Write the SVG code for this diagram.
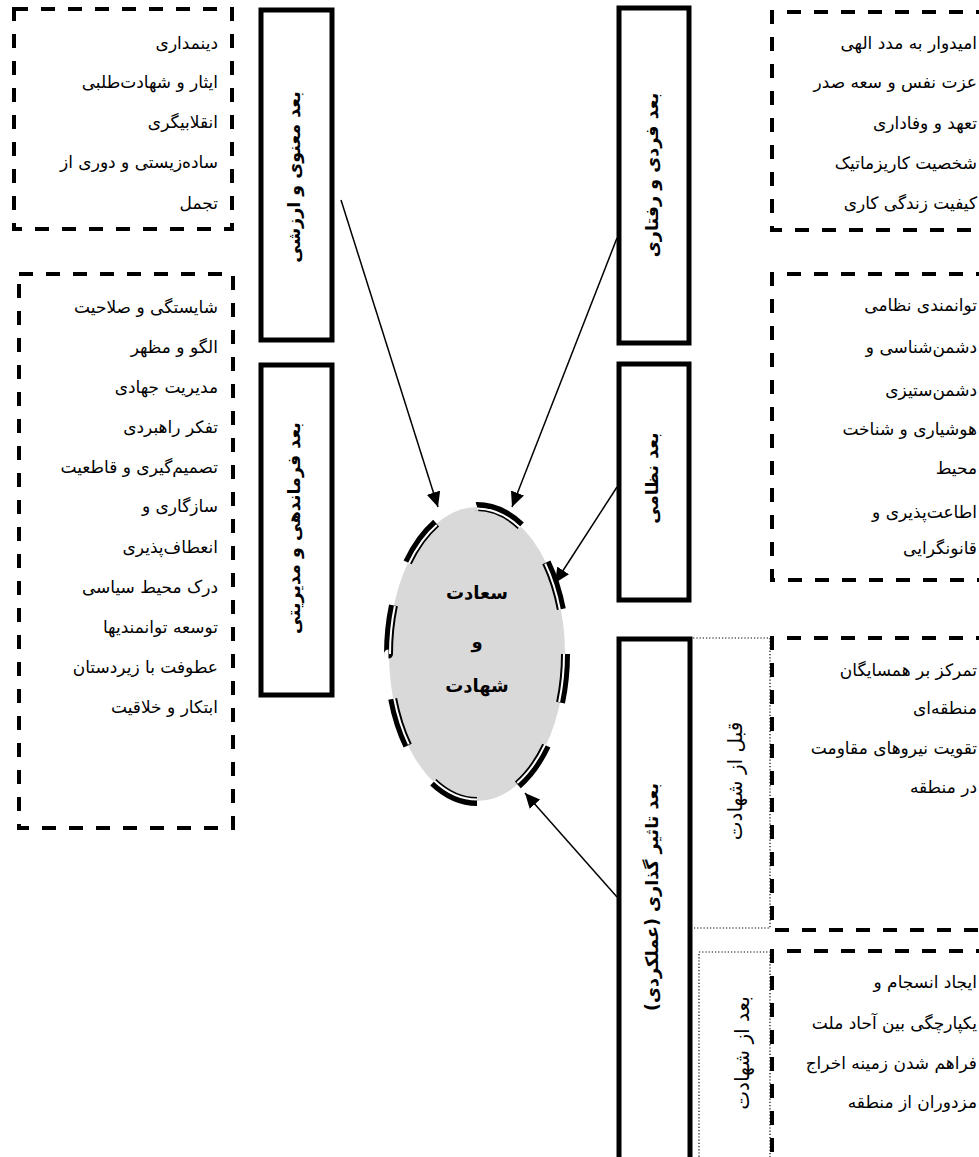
<svg xmlns="http://www.w3.org/2000/svg" width="979" height="1157" viewBox="0 0 979 1157">
<style>
.dash{fill:none;stroke:#000;stroke-width:4;stroke-dasharray:14 13}
.dot{fill:none;stroke:#000;stroke-width:1.2;stroke-dasharray:1.2 2}
.vbox{fill:none;stroke:#000;stroke-width:5}
.item{font-family:"DejaVu Sans",sans-serif;font-size:17px;fill:#000;text-anchor:end}
.vlab{font-family:"DejaVu Sans",sans-serif;font-size:17.5px;font-weight:bold;fill:#000;text-anchor:middle;dominant-baseline:central}
.vsub{font-family:"DejaVu Sans",sans-serif;font-size:20px;fill:#000;text-anchor:middle;dominant-baseline:central}
.ctext{font-family:"DejaVu Sans",sans-serif;font-size:18px;font-weight:bold;fill:#000;text-anchor:middle;dominant-baseline:central}
.conn{stroke:#000;stroke-width:1.5;fill:none}
</style>
<defs>
<marker id="arr" markerUnits="userSpaceOnUse" markerWidth="16" markerHeight="14" refX="15" refY="7" orient="auto">
<path d="M0,0 L15,7 L0,14 z" fill="#000"/>
</marker>
</defs>

<g id="box-spiritual-list">
<rect class="dash" x="14" y="9" width="218" height="220"/>
<text class="item" x="218" y="49">دینمداری</text>
<text class="item" x="218" y="88">ایثار و شهادت‌طلبی</text>
<text class="item" x="218" y="128">انقلابیگری</text>
<text class="item" x="218" y="168">ساده‌زیستی و دوری از</text>
<text class="item" x="218" y="209">تجمل</text>
</g>

<g id="box-command-list">
<rect class="dash" x="19" y="274" width="214" height="554"/>
<text class="item" x="218" y="313">شایستگی و صلاحیت</text>
<text class="item" x="218" y="353">الگو و مظهر</text>
<text class="item" x="218" y="393">مدیریت جهادی</text>
<text class="item" x="218" y="433">تفکر راهبردی</text>
<text class="item" x="218" y="473">تصمیم‌گیری و قاطعیت</text>
<text class="item" x="218" y="512">سازگاری و</text>
<text class="item" x="218" y="553">انعطاف‌پذیری</text>
<text class="item" x="218" y="593">درک محیط سیاسی</text>
<text class="item" x="218" y="633">توسعه توانمندیها</text>
<text class="item" x="218" y="673">عطوفت با زیردستان</text>
<text class="item" x="218" y="713">ابتکار و خلاقیت</text>
</g>

<g id="node-spiritual">
<rect class="vbox" x="261" y="10" width="71" height="330"/>
<text class="vlab" transform="translate(294,177) rotate(-90)">بعد معنوی و ارزشی</text>
</g>

<g id="node-command">
<rect class="vbox" x="261" y="365" width="71" height="330"/>
<text class="vlab" transform="translate(294,528) rotate(-90)">بعد فرماندهی و مدیریتی</text>
</g>

<g id="node-individual">
<rect class="vbox" x="619" y="8" width="70" height="335"/>
<text class="vlab" transform="translate(652,175) rotate(-90)">بعد فردی و رفتاری</text>
</g>

<g id="node-military">
<rect class="vbox" x="619" y="364" width="70" height="236"/>
<text class="vlab" transform="translate(652,478) rotate(-90)">بعد نظامی</text>
</g>

<g id="node-impact">
<rect class="vbox" x="619" y="639" width="71" height="560"/>
<text class="vlab" direction="rtl" transform="translate(652,897) rotate(-90)">بعد  تاثیر گذاری (عملکردی)</text>
</g>

<g id="node-before">
<path class="dot" d="M690,638 H770 V928 H690"/>
<text class="vsub" transform="translate(735,781) rotate(-90)">قبل از شهادت</text>
</g>

<g id="node-after">
<path class="dot" d="M699,1160 V952 H770 V1160"/>
<text class="vsub" transform="translate(742,1053) rotate(-90)">بعد از شهادت</text>
</g>

<g id="box-individual-list">
<path class="dash" d="M990,12 H772 V230 H990"/>
<text class="item" x="977" y="49">امیدوار به مدد الهی</text>
<text class="item" x="977" y="88">عزت نفس و سعه صدر</text>
<text class="item" x="977" y="129">تعهد و وفاداری</text>
<text class="item" x="977" y="169">شخصیت کاریزماتیک</text>
<text class="item" x="977" y="209">کیفیت زندگی کاری</text>
</g>

<g id="box-military-list">
<path class="dash" d="M990,274 H772 V580 H990"/>
<text class="item" x="977" y="311">توانمندی نظامی</text>
<text class="item" x="977" y="353">دشمن‌شناسی و</text>
<text class="item" x="977" y="396">دشمن‌ستیزی</text>
<text class="item" x="977" y="435">هوشیاری و شناخت</text>
<text class="item" x="977" y="474">محیط</text>
<text class="item" x="977" y="518">اطاعت‌پذیری و</text>
<text class="item" x="977" y="554">قانونگرایی</text>
</g>

<g id="box-before-list">
<path class="dash" d="M990,638 H772 V930 H990"/>
<text class="item" x="977" y="676">تمرکز بر همسایگان</text>
<text class="item" x="977" y="714">منطقه‌ای</text>
<text class="item" x="977" y="754">تقویت نیروهای مقاومت</text>
<text class="item" x="977" y="793">در منطقه</text>
</g>

<g id="box-after-list">
<path class="dash" d="M990,951 H772 V1170"/>
<text class="item" x="977" y="988">ایجاد انسجام و</text>
<text class="item" x="977" y="1029">یکپارچگی بین آحاد ملت</text>
<text class="item" x="977" y="1069">فراهم شدن زمینه اخراج</text>
<text class="item" x="977" y="1108">مزدوران از منطقه</text>
</g>

<g id="node-center">
<ellipse cx="477" cy="654" rx="88" ry="147" fill="#d9d9d9"/>
<path d="M565.5,654 A88.5,147.5 0 1 1 388.5,654 A88.5,147.5 0 1 1 565.5,654" pathLength="768" fill="none" stroke="#000" stroke-width="9" stroke-dasharray="50 46"/>
<path d="M564,654 A87,145.5 0 1 1 390,654 A87,145.5 0 1 1 564,654" pathLength="768" fill="none" stroke="#fff" stroke-width="2" stroke-dasharray="50 46"/>
<text class="ctext" x="477" y="592">سعادت</text>
<text class="ctext" x="477" y="641">و</text>
<text class="ctext" x="477" y="685">شهادت</text>
</g>

<g id="connectors">
<line class="conn" x1="341" y1="200" x2="438" y2="507" marker-end="url(#arr)"/>
<line class="conn" x1="617" y1="238" x2="512" y2="507" marker-end="url(#arr)"/>
<line class="conn" x1="617" y1="487" x2="555" y2="583" marker-end="url(#arr)"/>
<line class="conn" x1="617" y1="897" x2="525" y2="793" marker-end="url(#arr)"/>
</g>
</svg>
